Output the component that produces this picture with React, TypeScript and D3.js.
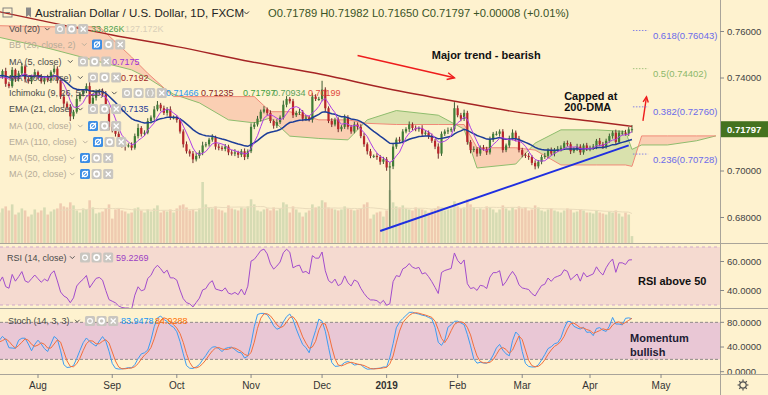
import React from 'react';
import * as d3 from 'd3';

// ---------------- data (AUDUSD daily, FXCM) ----------------
// closes before the first visible bar, only used to warm up the indicators
const warmupCloses = [0.7450, 0.7400, 0.7375, 0.7410, 0.7425, 0.7410, 0.7380, 0.7350, 0.7335, 0.7400,
  0.7360, 0.7395, 0.7395, 0.7415, 0.7430, 0.7465, 0.7435, 0.7370, 0.7400, 0.7400];

const julCloses = [0.7405, 0.7430, 0.7375, 0.7365, 0.7435, 0.7395, 0.7420, 0.7450, 0.7395, 0.7385, 0.7405, 0.7425];
const augCloses = [0.7405, 0.7385, 0.7400, 0.7390, 0.7425, 0.7440, 0.7390, 0.7320, 0.7290, 0.7275, 0.7235, 0.7255,
  0.7310, 0.7330, 0.7345, 0.7365, 0.7290, 0.7315, 0.7340, 0.7345, 0.7330, 0.7265, 0.7190];
const sepCloses = [0.7175, 0.7160, 0.7130, 0.7115, 0.7110, 0.7110, 0.7100, 0.7150, 0.7185, 0.7160,
  0.7165, 0.7215, 0.7230, 0.7265, 0.7285, 0.7270, 0.7250, 0.7265, 0.7230, 0.7230];
const octCloses = [0.7220, 0.7170, 0.7115, 0.7085, 0.7075, 0.7050, 0.7065, 0.7080, 0.7110, 0.7115, 0.7135, 0.7145,
  0.7105, 0.7100, 0.7095, 0.7105, 0.7080, 0.7075, 0.7080, 0.7070, 0.7085, 0.7060, 0.7085];
const novCloses = [0.7190, 0.7200, 0.7225, 0.7255, 0.7265, 0.7250, 0.7215, 0.7195, 0.7210, 0.7230, 0.7285,
  0.7310, 0.7300, 0.7240, 0.7250, 0.7255, 0.7225, 0.7230, 0.7220, 0.7320, 0.7310, 0.7310];
const decCloses = [0.7350, 0.7270, 0.7215, 0.7200, 0.7220, 0.7180, 0.7190, 0.7230, 0.7190, 0.7170,
  0.7200, 0.7190, 0.7150, 0.7115, 0.7085, 0.7065, 0.7065, 0.7060, 0.7040, 0.7050];
const janCloses = [0.7015, 0.7020, 0.7105, 0.7135, 0.7130, 0.7170, 0.7180, 0.7200, 0.7185, 0.7180, 0.7185,
  0.7160, 0.7165, 0.7150, 0.7130, 0.7105, 0.7075, 0.7160, 0.7170, 0.7175, 0.7180, 0.7270];
const febCloses = [0.7240, 0.7225, 0.7250, 0.7125, 0.7090, 0.7095, 0.7075, 0.7100, 0.7095, 0.7080,
  0.7135, 0.7160, 0.7160, 0.7170, 0.7090, 0.7110, 0.7140, 0.7165, 0.7140, 0.7090];
const marCloses = [0.7070, 0.7065, 0.7060, 0.7035, 0.7020, 0.7040, 0.7060, 0.7065, 0.7090, 0.7075, 0.7090,
  0.7095, 0.7100, 0.7120, 0.7115, 0.7085, 0.7095, 0.7105, 0.7080, 0.7110, 0.7095];
const aprCloses = [0.7100, 0.7105, 0.7130, 0.7115, 0.7105, 0.7130, 0.7150, 0.7165, 0.7125, 0.7165,
  0.7165, 0.7160, 0.71789, 0.71797];

// wick lengths in pips beyond the candle body (warm-up bars first)
const upPips = [8, 12, 6, 15, 9, 11, 7, 14, 10, 6, 13, 9, 18, 7, 10, 12, 8, 16, 9, 11,
  10, 7, 14, 9, 12, 6, 11, 15, 8, 10, 9, 13,
  7, 12, 9, 14, 8, 16, 10, 6, 11, 9, 13, 8, 15, 10, 7, 12, 22, 9, 11, 8, 10, 14, 9,
  12, 8, 10, 15, 7, 9, 13, 11, 18, 8, 10, 12, 9, 14, 16, 8, 11, 10, 13, 9,
  10, 7, 9, 12, 8, 11, 14, 9, 16, 10, 8, 13, 7, 12, 9, 11, 8, 10, 14, 7, 9, 12, 8,
  15, 10, 12, 9, 14, 8, 11, 7, 13, 9, 18, 12, 8, 10, 9, 14, 7, 11, 8, 16, 10, 9,
  38, 10, 8, 12, 9, 11, 7, 13, 10, 8, 12, 9, 11, 14, 8, 10, 6, 12, 9, 11,
  10, 18, 14, 9, 12, 10, 8, 13, 9, 11, 7, 12, 10, 9, 11, 8, 14, 10, 9, 12, 8, 26,
  12, 10, 14, 9, 8, 11, 7, 10, 12, 9, 13, 8, 11, 9, 10, 8, 12, 14, 9, 11,
  10, 8, 12, 9, 11, 7, 10, 13, 8, 11, 9, 12, 10, 8, 11, 9, 7, 12, 10, 8, 11,
  9, 11, 8, 12, 10, 9, 11, 8, 13, 10, 9, 12, 10, 18];
const downPips = [9, 11, 13, 7, 10, 12, 8, 15, 9, 11, 7, 13, 10, 8, 12, 9, 14, 10, 8, 11,
  11, 8, 13, 9, 7, 12, 10, 8, 14, 9, 11, 7,
  10, 9, 12, 8, 11, 7, 13, 10, 18, 9, 20, 12, 8, 11, 9, 10, 14, 8, 12, 7, 10, 9, 15,
  9, 12, 10, 14, 22, 9, 11, 8, 10, 12, 9, 7, 11, 10, 8, 13, 9, 12, 10, 8,
  12, 9, 14, 10, 13, 16, 9, 11, 12, 8, 10, 9, 13, 11, 8, 10, 12, 9, 11, 14, 10, 13, 9,
  8, 10, 9, 12, 7, 11, 9, 13, 10, 8, 9, 11, 10, 12, 8, 9, 11, 10, 7, 12, 9, 8,
  10, 12, 9, 11, 8, 13, 10, 9, 11, 10, 8, 12, 9, 11, 14, 10, 9, 12, 13, 10,
  14, 255, 12, 10, 9, 11, 8, 12, 10, 9, 11, 10, 8, 12, 9, 11, 22, 10, 9, 11, 8, 10,
  9, 11, 10, 12, 14, 9, 13, 10, 8, 11, 9, 10, 8, 12, 11, 9, 10, 8, 12, 10,
  11, 9, 12, 10, 13, 9, 11, 8, 10, 9, 12, 8, 11, 9, 10, 12, 8, 9, 11, 10, 9,
  10, 9, 11, 8, 10, 9, 8, 11, 10, 9, 11, 8, 10, 14];

// volume in thousands, visible bars only
const volumes = [150, 170, 180, 160, 190, 140, 150, 170, 160, 130, 140, 165,
  150, 160, 175, 140, 155, 165, 170, 195, 180, 175, 200, 185, 160, 150, 170, 165, 210, 175, 145, 150, 155, 170, 190,
  120, 165, 170, 160, 155, 145, 150, 170, 175, 160, 150, 165, 155, 170, 185, 150, 160, 155, 165, 150,
  170, 185, 190, 175, 160, 165, 155, 170, 300, 190, 175, 170, 180, 165, 160, 150, 185, 170, 165, 160, 175, 170, 180,
  215, 190, 160, 155, 165, 170, 160, 175, 160, 170, 200, 190, 150, 180, 165, 150, 130, 150, 160, 190, 175, 180,
  210, 200, 175, 170, 165, 160, 165, 180, 170, 165, 160, 165, 170, 190, 200, 120, 140, 150, 155, 130,
  160, 260, 200, 180, 175, 185, 170, 165, 160, 175, 170, 165, 160, 150, 165, 170, 180, 175, 160, 165, 170, 205,
  180, 170, 175, 215, 190, 175, 165, 170, 165, 180, 175, 165, 150, 165, 185, 170, 160, 175, 165, 180,
  170, 175, 160, 165, 185, 175, 160, 155, 165, 170, 160, 155, 150, 160, 170, 165, 150, 155, 165, 160, 150,
  150, 145, 160, 150, 145, 140, 155, 150, 160, 145, 130, 150, 140, 34];

// 200-day moving average, read at month starts
const ma200Dates = ['2018-07-16', '2018-08-01', '2018-09-03', '2018-10-01', '2018-11-01', '2018-12-03',
  '2019-01-02', '2019-02-01', '2019-03-01', '2019-04-01', '2019-04-18'];
const ma200 = [0.7685, 0.7650, 0.7585, 0.7535, 0.7470, 0.7415, 0.7355, 0.7298, 0.7250, 0.7215, 0.7192];

// Ichimoku leading spans (already shifted 26 bars forward)
const cloudDates = ['2018-07-16', '2018-08-07', '2018-08-28', '2018-09-11', '2018-09-18', '2018-09-28',
  '2018-10-10', '2018-10-23', '2018-11-02', '2018-11-09', '2018-11-19', '2018-11-30', '2018-12-13',
  '2018-12-21', '2019-01-07', '2019-01-24', '2019-02-05', '2019-02-11', '2019-02-27', '2019-03-07',
  '2019-03-19', '2019-04-03', '2019-04-16', '2019-04-18', '2019-04-23', '2019-05-03', '2019-05-16', '2019-05-24'];
const spanA = [0.7575, 0.7525, 0.7470, 0.7435, 0.7400, 0.7330, 0.7293, 0.7220, 0.7207, 0.7228, 0.7150, 0.7140,
  0.7134, 0.7220, 0.7260, 0.7240, 0.7180, 0.7013, 0.7030, 0.7120, 0.7177, 0.7177, 0.7170, 0.7093, 0.7112,
  0.7112, 0.7130, 0.7151];
const spanB = [0.7625, 0.7620, 0.7620, 0.7490, 0.7420, 0.7320, 0.7320, 0.7320, 0.7320, 0.7255, 0.7255, 0.7220,
  0.7220, 0.7205, 0.7200, 0.7200, 0.7200, 0.7100, 0.7100, 0.7090, 0.7026, 0.7026, 0.7026, 0.7020, 0.7151,
  0.7151, 0.7151, 0.7151];

const fibRatios = ['0.236', '0.382', '0.5', '0.618'];
const fibPrices = [0.70728, 0.72760, 0.74402, 0.76043];
const priceTicks = [0.68, 0.70, 0.74, 0.76];
const rsiTicks = [40, 60];
const stochTicks = [0, 40, 80];

// ---------------- helpers ----------------
const parse = d3.timeParse('%Y-%m-%d');
const fmt = d3.timeFormat('%Y-%m-%d');
const noBarDays = ['2018-12-25', '2019-01-01'];
const tradingDays = (from: string, to: string) =>
  d3.timeDay.range(parse(from)!, d3.timeDay.offset(parse(to)!, 1))
    .filter(d => d.getDay() % 6 !== 0 && !noBarDays.includes(fmt(d)))
    .map(d => fmt(d));

const shownDays = tradingDays('2018-07-16', '2019-04-18');
const axisDays = [...shownDays, ...tradingDays('2019-04-19', '2019-05-31')];
const dayIndex = new Map(axisDays.map((d, i) => [d, i] as [string, number]));

const sma = (a: number[], n: number) =>
  a.map((_, i) => {
    if (i < n - 1) return NaN;
    const s = a.slice(i - n + 1, i + 1);
    return s.some(v => isNaN(v)) ? NaN : d3.sum(s) / n;
  });
const ema = (a: number[], n: number) => {
  const k = 2 / (n + 1);
  let e = a[0];
  return a.map((v, i) => (e = i ? v * k + e * (1 - k) : v));
};
const rsiCalc = (c: number[], n: number) => {
  const out = c.map(() => NaN);
  let g = 0, l = 0;
  for (let i = 1; i <= n; i++) { const d = c[i] - c[i - 1]; if (d > 0) g += d; else l -= d; }
  g /= n; l /= n;
  out[n] = 100 - 100 / (1 + g / l);
  for (let i = n + 1; i < c.length; i++) {
    const d = c[i] - c[i - 1];
    g = (g * (n - 1) + Math.max(d, 0)) / n;
    l = (l * (n - 1) + Math.max(-d, 0)) / n;
    out[i] = 100 - 100 / (1 + g / l);
  }
  return out;
};

const FONT = "'Liberation Sans', Arial, sans-serif";
const PLOT_R = 720;
const MAIN_B = 243;

function arrowHead(x1: number, y1: number, x2: number, y2: number, len = 8) {
  const a = Math.atan2(y2 - y1, x2 - x1);
  const p = (da: number) => `${x2 - len * Math.cos(a + da)},${y2 - len * Math.sin(a + da)}`;
  return `M${p(0.45)}L${x2},${y2}L${p(-0.45)}`;
}

function Btn({ x, y, kind }: { x: number; y: number; kind: string }) {
  const blue = kind === 'eyeoff';
  const cx = x + 5, cy = y;
  return (
    <g>
      <rect x={x} y={y - 5} width={10} height={10} rx={1.5} fill={blue ? '#3d8ee4' : '#c9c6c0'} />
      {kind === 'gear' && <circle cx={cx} cy={cy} r={2.6} fill="none" stroke="#fff" strokeWidth={1.6} />}
      {kind === 'eye' && <circle cx={cx} cy={cy} r={2.4} fill="none" stroke="#fff" strokeWidth={1.1} />}
      {kind === 'eyeoff' && (
        <g stroke="#fff" strokeWidth={1.1} fill="none">
          <circle cx={cx} cy={cy} r={2.6} />
          <line x1={x + 2} y1={y + 3} x2={x + 8} y2={y - 3} />
        </g>
      )}
      {kind === 'x' && (
        <path d={`M${x + 2.5},${y - 2.5}L${x + 7.5},${y + 2.5}M${x + 7.5},${y - 2.5}L${x + 2.5},${y + 2.5}`} stroke="#fff" strokeWidth={1.3} />
      )}
      {kind === 'code' && (
        <path d={`M${x + 4},${y - 3}q-1.5,0 -1.5,1.5v0.7q0,0.8 -0.8,0.8q0.8,0 0.8,0.8v0.7q0,1.5 1.5,1.5M${x + 6},${y - 3}q1.5,0 1.5,1.5v0.7q0,0.8 0.8,0.8q-0.8,0 -0.8,0.8v0.7q0,1.5 -1.5,1.5`}
          fill="none" stroke="#fff" strokeWidth={0.9} />
      )}
    </g>
  );
}

type LegendValue = [string, string, number];
function LegendRow({ label, x0 = 9, y, faded, iconX, icons, values = [] }:
  { label: string; x0?: number; y: number; faded?: boolean; iconX: number; icons: string[]; values?: LegendValue[] }) {
  const col = faded ? '#b5ab98' : '#4a4a4a';
  return (
    <g fontFamily={FONT} fontSize={9}>
      <text x={x0} y={y + 3.2} fill={col}>{label}</text>
      <path d={`M${iconX - 10},${y - 1.2}l2.3,2.3l2.3,-2.3`} fill="none" stroke={col} strokeWidth={0.9} />
      {icons.map((k, i) => <Btn key={i} x={iconX + i * 11.6} y={y} kind={k} />)}
      {values.map(([t, c, vx], i) => <text key={i} x={vx} y={y + 3.2} fill={c}>{t}</text>)}
    </g>
  );
}

export default function App() {
  const closes = [...julCloses, ...augCloses, ...sepCloses, ...octCloses, ...novCloses, ...decCloses,
    ...janCloses, ...febCloses, ...marCloses, ...aprCloses];
  const all = [...warmupCloses, ...closes];
  const W0 = warmupCloses.length;
  const opens = all.map((c, i) => (i === 0 ? c : all[i - 1]));
  const highs = all.map((c, i) => Math.max(opens[i], c) + upPips[i] / 1e4);
  const lows = all.map((c, i) => Math.min(opens[i], c) - downPips[i] / 1e4);

  const ma5 = sma(all, 5).slice(W0);
  const ema21 = ema(all, 21).slice(W0);
  const rsi14 = rsiCalc(all, 14).slice(W0);
  const rawK = all.map((c, i) => {
    if (i < 13) return NaN;
    const hh = d3.max(highs.slice(i - 13, i + 1))!, ll = d3.min(lows.slice(i - 13, i + 1))!;
    return ((c - ll) / (hh - ll)) * 100;
  });
  const stK = sma(rawK, 3);
  const stD = sma(stK, 3).slice(W0);
  const stKs = stK.slice(W0);
  const volMa = sma(volumes, 20);

  // scales
  const x = d3.scaleLinear()
    .domain([dayIndex.get('2018-08-01')!, dayIndex.get('2019-04-01')!])
    .range([38, 590]);
  const xd = (d: string, off = 0) => x(dayIndex.get(d)! + off);
  const y = d3.scaleLinear().domain([0.68, 0.76]).range([217.5, 31.5]);
  const yVol = d3.scaleLinear().domain([0, 300]).range([MAIN_B, 182]);
  const yRsi = d3.scaleLinear().domain([30, 70]).range([305, 247]);
  const ySt = d3.scaleLinear().domain([0, 100]).range([371.7, 310]);

  const seriesLine = (sy: (v: number) => number) =>
    d3.line<number>().defined(v => !isNaN(v)).x((_, i) => x(i)).y(v => sy(v));

  const lastI = closes.length - 1;
  const lastDay = shownDays[lastI];

  // ichimoku cloud
  const cloud = cloudDates.map((d, i) => ({ i: dayIndex.get(d)!, a: spanA[i], b: spanB[i] }));
  type CP = { i: number; a: number; b: number };
  const between = d3.area<CP>().x(p => x(p.i)).y0(p => y(p.a)).y1(p => y(p.b));
  const aboveB = d3.area<CP>().x(p => x(p.i)).y0(0).y1(p => y(p.b));
  const belowB = d3.area<CP>().x(p => x(p.i)).y0(p => y(p.b)).y1(MAIN_B);
  const lineA = d3.line<CP>().x(p => x(p.i)).y(p => y(p.a));
  const lineB = d3.line<CP>().x(p => x(p.i)).y(p => y(p.b));

  const ma200Line = d3.line<number>()
    .x((_, i) => xd(ma200Dates[i])).y(v => y(v)).curve(d3.curveMonotoneX)(ma200)!;

  // month ticks
  const monthTicks = axisDays
    .map((d, i) => ({ d, i }))
    .filter(({ d, i }) => i > 0 && d.slice(5, 7) !== axisDays[i - 1].slice(5, 7));
  const monthLabel = (d: string) =>
    d.slice(5, 7) === '01' ? d.slice(0, 4) : d3.timeFormat('%b')(parse(d)!);

  // annotations (date/price anchors)
  const trend = [xd('2018-12-28'), y(0.6742), xd('2019-04-17'), y(0.7110)];
  const bear = [xd('2018-12-18'), y(0.7497), xd('2019-01-31'), y(0.7401)];
  const upArr = [xd(lastDay, 3.4), y(0.7216), xd(lastDay, 4.5), y(0.7319)];

  const bg = '#fef2cf';

  return (
    <svg width={768} height={395} style={{ position: 'fixed', left: 0, top: 0, display: 'block' }}
      fontFamily={FONT}>
      <defs>
        <clipPath id="mainClip"><rect x={0} y={0} width={PLOT_R} height={MAIN_B} /></clipPath>
        <clipPath id="aboveB"><path d={aboveB(cloud)!} /></clipPath>
        <clipPath id="belowB"><path d={belowB(cloud)!} /></clipPath>
        <clipPath id="rsiClip"><rect x={0} y={244} width={PLOT_R} height={64} /></clipPath>
        <clipPath id="stClip"><rect x={0} y={309} width={PLOT_R} height={65} /></clipPath>
        <clipPath id="axisClip"><rect x={PLOT_R} y={0} width={48} height={374} /></clipPath>
      </defs>
      <rect width={768} height={395} fill={bg} />

      {/* ---------- main pane ---------- */}
      <g clipPath="url(#mainClip)">
        {volumes.map((v, i) => {
          const fi = i + W0;
          const up = all[fi] >= opens[fi];
          return <rect key={i} x={x(i) - 1.3} y={yVol(v)} width={2.6} height={MAIN_B - yVol(v)}
            fill={up ? '#d6dbb3' : '#efcbb0'} />;
        })}
        <path d={seriesLine(yVol)(volMa)!} fill="none" stroke="#eadcbc" strokeWidth={1} />

        <path d={between(cloud)!} fill="#d5dfa9" opacity={0.9} clipPath="url(#aboveB)" />
        <path d={between(cloud)!} fill="#f9c9ae" opacity={0.85} clipPath="url(#belowB)" />
        <path d={lineA(cloud)!} fill="none" stroke="#8fbd6e" strokeWidth={1} />
        <path d={lineB(cloud)!} fill="none" stroke="#f08a78" strokeWidth={1} />

        {closes.map((c, i) => {
          const fi = i + W0;
          const o = opens[fi];
          const up = c >= o;
          const col = up ? '#3f7c36' : '#b8262b';
          const top = y(Math.max(o, c)), bot = y(Math.min(o, c));
          return (
            <g key={i}>
              <line x1={x(i)} x2={x(i)} y1={y(highs[fi])} y2={y(lows[fi])} stroke={up ? '#3d5a33' : '#6e2a2a'} strokeWidth={1} />
              <rect x={x(i) - 1.1} y={top} width={2.2} height={Math.max(1, bot - top)} fill={col} />
            </g>
          );
        })}

        <path d={ma200Line} fill="none" stroke="#a52424" strokeWidth={1.4} />
        <path d={seriesLine(y)(ema21)!} fill="none" stroke="#1d3d98" strokeWidth={1.5} />
        <path d={seriesLine(y)(ma5)!} fill="none" stroke="#b03ee6" strokeWidth={1} />

        <line x1={trend[0]} y1={trend[1]} x2={trend[2]} y2={trend[3]} stroke="#1f2fe0" strokeWidth={2} />

        <line x1={bear[0]} y1={bear[1]} x2={bear[2]} y2={bear[3]} stroke="#ee1c1c" strokeWidth={1.4} />
        <path d={arrowHead(bear[0], bear[1], bear[2], bear[3], 8)} fill="none" stroke="#ee1c1c" strokeWidth={1.4} />
        <line x1={upArr[0]} y1={upArr[1]} x2={upArr[2]} y2={upArr[3]} stroke="#ee1c1c" strokeWidth={1.4} />
        <path d={arrowHead(upArr[0], upArr[1], upArr[2], upArr[3], 6)} fill="none" stroke="#ee1c1c" strokeWidth={1.4} />

        <text x={xd('2019-01-22')} y={y(0.7500) + 4} fontSize={11} fontWeight="bold" fill="#111">Major trend - bearish</text>
        <text x={xd('2019-03-20')} y={y(0.7323) + 4} fontSize={11} fontWeight="bold" fill="#111">Capped at</text>
        <text x={xd('2019-03-20')} y={y(0.7276) + 4} fontSize={11} fontWeight="bold" fill="#111">200-DMA</text>

        {fibPrices.map((p, i) => {
          const col = fibRatios[i] === '0.5' ? '#8db86b' : '#6b6bea';
          return (
            <g key={i}>
              <line x1={xd(lastDay, 0.3)} x2={xd(lastDay, 5)} y1={y(p)} y2={y(p)} stroke={col} strokeWidth={1} strokeDasharray="1.5,1.5" opacity={0.8} />
              <text x={xd(lastDay, 6.5)} y={y(p) + 8.5} fontSize={9.5} fill={col}>{`${fibRatios[i]}(${p.toFixed(5)})`}</text>
            </g>
          );
        })}
      </g>

      {/* legend */}
      <g>
        <rect x={3} y={8} width={9} height={9} fill="none" stroke="#777" strokeWidth={0.9} />
        <line x1={5} x2={10} y1={12.5} y2={12.5} stroke="#777" strokeWidth={0.9} />
        <path d="M26,7.5h5v10l-2.5,-2.5l-2.5,2.5z" fill="#8a8a8a" />
        <text x={35} y={17} fontSize={11.5} fill="#222">Australian Dollar / U.S. Dollar, 1D, FXCM</text>
        <path d="M244,11.5l2.5,2.5l2.5,-2.5" fill="none" stroke="#333" strokeWidth={1} />
        <text x={268} y={17} fontSize={11.2} fill="#3a5326">O0.71789  H0.71982  L0.71650  C0.71797  +0.00008 (+0.01%)</text>
      </g>
      <LegendRow label="Vol (20)" y={29} iconX={55} icons={['eye', 'gear', 'x']}
        values={[['33.826K', '#4e9f4e', 91], ['127.172K', '#d9cfb9', 125]]} />
      <LegendRow label="BB (20, close, 2)" y={44.5} faded iconX={92} icons={['eyeoff', 'gear', 'x']} />
      <LegendRow label="MA (5, close)" y={61.5} iconX={78} icons={['eye', 'gear', 'x']} values={[['0.7175', '#9b30d9', 112]]} />
      <LegendRow label="MA (200, close)" y={77.5} iconX={88} icons={['eye', 'gear', 'x']} values={[['0.7192', '#a02828', 121]]} />
      <LegendRow label="Ichimoku (9, 26, 52, 26)" y={93} iconX={122} icons={['eye', 'gear', 'code', 'x']}
        values={[['0.71466', '#2a96f0', 166], ['0.71235', '#8a1e1e', 201], ['0.71797', '#3e9e3e', 243],
          ['0.70934', '#5aa05a', 273], ['0.70199', '#e04a40', 308]]} />
      <LegendRow label="EMA (21, close)" y={109} iconX={88} icons={['eye', 'gear', 'x']} values={[['0.7135', '#1e3c96', 121]]} />
      <LegendRow label="MA (100, close)" y={126} faded iconX={88} icons={['eyeoff', 'gear', 'x']} />
      <LegendRow label="EMA (110, close)" y={142} faded iconX={93} icons={['eyeoff', 'gear', 'x']} />
      <LegendRow label="MA (50, close)" y={158} faded iconX={80} icons={['eyeoff', 'gear', 'x']} />
      <LegendRow label="MA (20, close)" y={174} faded iconX={80} icons={['eyeoff', 'gear', 'x']} />

      {/* ---------- RSI pane ---------- */}
      <rect x={0} y={yRsi(70)} width={PLOT_R} height={yRsi(30) - yRsi(70)} fill="#f5dad0" />
      {[70, 30].map(v => (
        <line key={v} x1={0} x2={PLOT_R} y1={yRsi(v)} y2={yRsi(v)} stroke="#cfa9c9" strokeDasharray="3,3" strokeWidth={1} />
      ))}
      <g clipPath="url(#rsiClip)">
        <path d={seriesLine(yRsi)(rsi14)!} fill="none" stroke="#a24ccc" strokeWidth={1} />
      </g>
      <LegendRow label="RSI (14, close)" x0={7} y={257.5} iconX={80} icons={['eye', 'gear', 'x']} values={[['59.2269', '#9c3fc4', 116]]} />
      <text x={638} y={285} fontSize={11} fontWeight="bold" fill="#111">RSI above 50</text>

      {/* ---------- Stoch pane ---------- */}
      <rect x={0} y={ySt(80)} width={PLOT_R} height={ySt(20) - ySt(80)} fill="#e9c7d5" />
      {[80, 20].map(v => (
        <line key={v} x1={0} x2={PLOT_R} y1={ySt(v)} y2={ySt(v)} stroke="#8e8a88" strokeDasharray="3,2" strokeWidth={1} />
      ))}
      <g clipPath="url(#stClip)">
        <path d={seriesLine(ySt)(stKs)!} fill="none" stroke="#3d9cf2" strokeWidth={1} />
        <path d={seriesLine(ySt)(stD)!} fill="none" stroke="#f26f3c" strokeWidth={1} />
      </g>
      <LegendRow label="Stoch (14, 3, 3)" x0={8} y={321} iconX={85} icons={['eye', 'gear', 'x']}
        values={[['83.9478', '#2196f3', 121], ['84.9288', '#ff6d00', 155]]} />
      <text x={630} y={342} fontSize={11} fontWeight="bold" fill="#1d1b33">Momentum</text>
      <text x={630} y={356} fontSize={11} fontWeight="bold" fill="#1d1b33">bullish</text>

      {/* ---------- separators & axes ---------- */}
      <g stroke="#a9a49a" strokeWidth={1}>
        <line x1={0} x2={768} y1={243.5} y2={243.5} />
        <line x1={0} x2={768} y1={308.5} y2={308.5} />
        <line x1={0} x2={768} y1={374.5} y2={374.5} />
        <line x1={PLOT_R + 0.5} x2={PLOT_R + 0.5} y1={0} y2={395} />
      </g>

      <g fontSize={9.5} fill="#444">
        {priceTicks.map(p => (
          <g key={p}>
            <line x1={PLOT_R} x2={PLOT_R + 4} y1={y(p)} y2={y(p)} stroke="#888" />
            <text x={727} y={y(p) + 3.3}>{p.toFixed(5)}</text>
          </g>
        ))}
        <rect x={PLOT_R + 1} y={y(0.71797) - 8} width={47} height={16} fill="#44721f" />
        <text x={727} y={y(0.71797) + 3.5} fill="#fff" fontWeight="bold">{closes[lastI].toFixed(5)}</text>
        {rsiTicks.map(v => (
          <g key={v}>
            <line x1={PLOT_R} x2={PLOT_R + 4} y1={yRsi(v)} y2={yRsi(v)} stroke="#888" />
            <text x={727} y={yRsi(v) + 3.3}>{v.toFixed(4)}</text>
          </g>
        ))}
        <g clipPath="url(#axisClip)">
          {stochTicks.map(v => (
            <g key={v}>
              <line x1={PLOT_R} x2={PLOT_R + 4} y1={ySt(v)} y2={ySt(v)} stroke="#888" />
              <text x={727} y={ySt(v) + 3.3}>{v.toFixed(4)}</text>
            </g>
          ))}
        </g>
      </g>

      <g fontSize={10} fill="#333" textAnchor="middle">
        {monthTicks.map(({ d, i }) => (
          <g key={d}>
            <line x1={x(i)} x2={x(i)} y1={374} y2={378} stroke="#888" />
            <text x={x(i)} y={389} fontWeight={d.slice(5, 7) === '01' ? 'bold' : 'normal'}>{monthLabel(d)}</text>
          </g>
        ))}
      </g>
      <g transform="translate(743,385)" stroke="#555" fill="none" strokeWidth={1.2}>
        <circle r={3.2} />
        {d3.range(8).map(k => {
          const a = (k * Math.PI) / 4;
          return <line key={k} x1={3.2 * Math.cos(a)} y1={3.2 * Math.sin(a)} x2={5.4 * Math.cos(a)} y2={5.4 * Math.sin(a)} />;
        })}
      </g>
    </svg>
  );
}
